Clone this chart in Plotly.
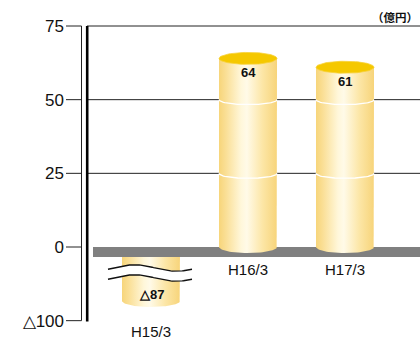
import numpy as np
import plotly.graph_objects as go

# ---- data ----
categories = ["H15/3", "H16/3", "H17/3"]
values = [-87, 64, 61]
value_labels = ["△87", "64", "61"]
tick_values = [75, 50, 25, 0, -100]
tick_labels = ["75", "50", "25", "0", "△100"]
gridline_values = [75, 50, 25]
unit_label = "（億円）"

# ---- broken-axis transform (negative side is compressed / not to scale) ----
AXIS_MIN = -100
AXIS_MIN_DISP = -25
LOWER_SCALE = 0.515


def disp(v):
    if v >= 0:
        return v
    return AXIS_MIN_DISP + (v - AXIS_MIN) * LOWER_SCALE


# pixel helpers (plot area: x 87..420 px, y 11..340 px)
K = 2.9467          # px per y unit
XK = 97.0           # px per category
XR = [-0.6598, 2.773]
YR = [-31.56, 80.09]
PW = 333.0

def px2paper(px):
    return (px - 87) / PW

RX = 29 / XK
RY = 6 / K
ARC_RY = 5 / K
BAND_H = 10 / K

body_scale = [[0.0, "#F7D57A"], [0.12, "#FADF96"], [0.38, "#FFF7DA"],
              [0.48, "#FFFAE8"], [0.75, "#FCE6A6"], [1.0, "#F7D47A"]]
TOP_COLOR = "#F5C800"

fig = go.Figure()
t = np.linspace(0, np.pi, 40)
tf = np.linspace(0, 2 * np.pi, 80)


def cylinder_body(xc, ytop, ybot):
    xs = [xc - RX, xc - RX, xc + RX] + list(xc + RX * np.cos(t))
    ys = [ybot, ytop, ytop] + list(ybot - RY * np.sin(t))
    fig.add_trace(go.Scatter(
        x=xs, y=ys, mode="lines", fill="toself", line=dict(width=0),
        fillgradient=dict(type="horizontal", colorscale=body_scale),
        hoverinfo="skip", showlegend=False))


# H15 (negative, broken) bar first
for i, v in enumerate(values):
    if v < 0:
        cylinder_body(i, disp(0), disp(v))
        # break marks
        wx = np.linspace(i - 43 / XK, i + 41 / XK, 60)
        tt = (wx - wx[0]) / (wx[-1] - wx[0])
        amp = 3.2 / K
        up = -(268 - 247) / K + amp * np.sin(2 * np.pi * tt - 0.4)
        lo = -(278 - 247) / K + amp * np.sin(2 * np.pi * tt - 0.4)
        fig.add_trace(go.Scatter(
            x=list(wx) + list(wx[::-1]), y=list(up) + list(lo[::-1]),
            mode="lines", fill="toself", fillcolor="white", line=dict(width=0),
            hoverinfo="skip", showlegend=False))
        for w in (up, lo):
            fig.add_trace(go.Scatter(x=wx, y=w, mode="lines",
                                     line=dict(color="#111", width=1.3),
                                     hoverinfo="skip", showlegend=False))

# zero band
bx0 = XR[0] + 6 / XK
fig.add_trace(go.Scatter(
    x=[bx0, XR[1] + 0.1, XR[1] + 0.1, bx0], y=[0, 0, -BAND_H, -BAND_H],
    mode="lines", fill="toself", fillcolor="#808080", line=dict(width=0),
    hoverinfo="skip", showlegend=False))

# positive bars
for i, v in enumerate(values):
    if v > 0:
        cylinder_body(i, disp(v), 0)
        # white arcs where gridlines cross
        for g in gridline_values:
            if g < v - RY:
                fig.add_trace(go.Scatter(
                    x=i + RX * np.cos(t), y=g - ARC_RY * np.sin(t), mode="lines",
                    line=dict(color="white", width=1.3),
                    hoverinfo="skip", showlegend=False))
        fig.add_trace(go.Scatter(
            x=i + RX * np.cos(tf), y=disp(v) + RY * np.sin(tf), mode="lines",
            fill="toself", fillcolor=TOP_COLOR, line=dict(color="#F7D23A", width=0.8),
            hoverinfo="skip", showlegend=False))

# value labels & category labels
for i, (v, lab, cat) in enumerate(zip(values, value_labels, categories)):
    if v > 0:
        fig.add_annotation(x=i, y=disp(v), yshift=-14, text=f"<b>{lab}</b>",
                           showarrow=False,
                           font=dict(family="Liberation Sans Narrow, Arial Narrow, sans-serif",
                                     size=13, color="#111"))
        fig.add_annotation(x=i, y=-BAND_H, yshift=-12, text=cat, showarrow=False,
                           font=dict(family="Liberation Sans, Arial, sans-serif",
                                     size=15, color="#111"))
    else:
        fig.add_annotation(x=i, y=disp(v), yshift=6, text=f"<b>{lab}</b>",
                           showarrow=False,
                           font=dict(family="Liberation Sans Narrow, Arial Narrow, sans-serif",
                                     size=13, color="#111"))
        fig.add_annotation(x=i, y=disp(AXIS_MIN), yshift=-11, text=cat, showarrow=False,
                           font=dict(family="Liberation Sans, Arial, sans-serif",
                                     size=15, color="#111"))

fig.add_annotation(xref="paper", yref="paper", x=px2paper(420), y=1 - (17 - 11) / 329,
                   xanchor="right", yanchor="middle", text=f"<b>{unit_label}</b>",
                   showarrow=False,
                   font=dict(family="Noto Sans CJK JP", size=11.5, color="#111"))

shapes = []
for g in gridline_values:
    shapes.append(dict(type="line", xref="paper", yref="y", x0=0, x1=1, y0=g, y1=g,
                       line=dict(color="#222", width=1), layer="below"))
tick_disp = [disp(v) for v in tick_values]
for y in tick_disp:
    shapes.append(dict(type="line", xref="paper", yref="y", x0=px2paper(66),
                       x1=px2paper(81.5), y0=y, y1=y, line=dict(color="#222", width=1)))
shapes.append(dict(type="line", xref="paper", yref="y", x0=px2paper(81.5), x1=px2paper(81.5),
                   y0=75, y1=disp(AXIS_MIN), line=dict(color="#222", width=1)))
shapes.append(dict(type="line", xref="paper", yref="y", x0=px2paper(87.2), x1=px2paper(87.2),
                   y0=75, y1=disp(AXIS_MIN) - 0.3, line=dict(color="#000", width=2.6)))

fig.update_layout(
    width=420, height=340, margin=dict(l=87, r=0, t=11, b=0),
    paper_bgcolor="white", plot_bgcolor="white", showlegend=False,
    shapes=shapes,
    xaxis=dict(range=XR, visible=False, fixedrange=True),
    yaxis=dict(range=YR, showgrid=False, zeroline=False, showline=False,
               tickvals=tick_disp, ticktext=tick_labels, ticks="",
               ticklabelstandoff=22,
               tickfont=dict(family="Liberation Sans, Arial, sans-serif", size=17, color="#111")),
)

fig.write_html("out.html")
